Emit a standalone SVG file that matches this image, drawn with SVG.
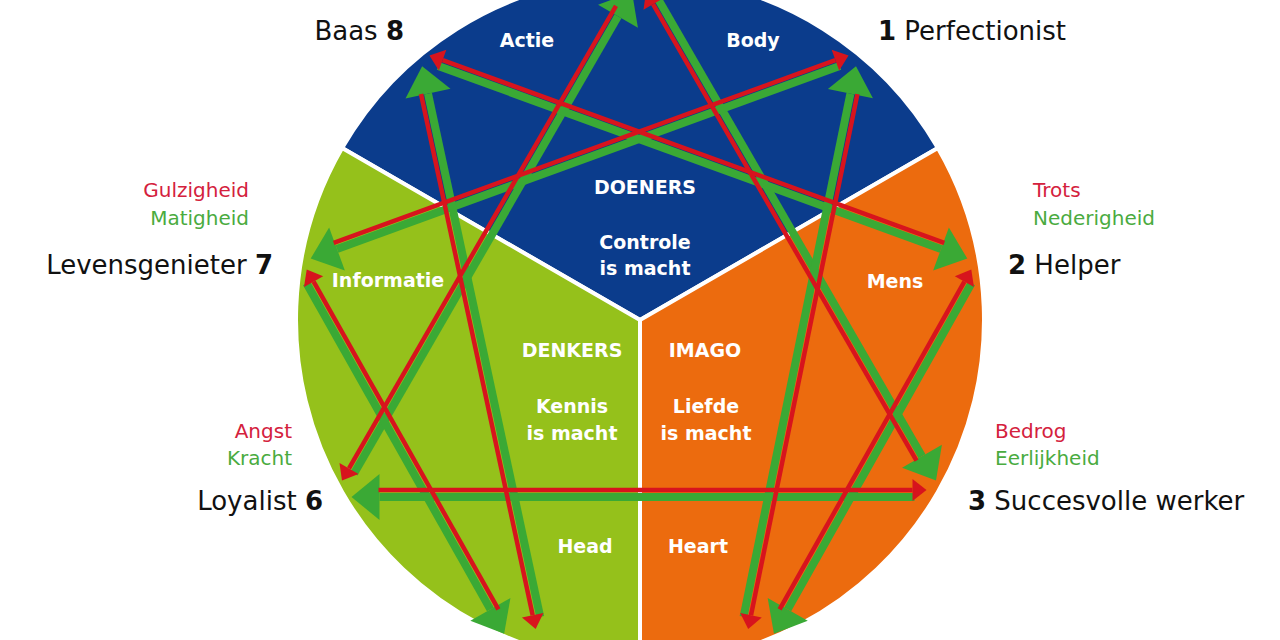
<svg xmlns="http://www.w3.org/2000/svg" width="1280" height="640" viewBox="0 0 1280 640">
<defs>
<style>
.sec{stroke:#ffffff;stroke-width:4;stroke-linejoin:miter}
.w{font-family:"DejaVu Sans","Liberation Sans",sans-serif;font-weight:bold;font-size:19px;fill:#ffffff;text-anchor:middle}
.lbl{font-family:"DejaVu Sans","Liberation Sans",sans-serif;font-size:26px;fill:#111111}
.num{font-weight:bold}
.vr{font-family:"DejaVu Sans","Liberation Sans",sans-serif;font-size:20px;fill:#d4213d}
.vg{font-family:"DejaVu Sans","Liberation Sans",sans-serif;font-size:20px;fill:#4aab3f}
.g{stroke:#3aa935;stroke-width:8;fill:none;marker-end:url(#ag)}
.r{stroke:#d7141d;stroke-width:4.5;fill:none;marker-end:url(#ar)}
</style>
<marker id="ag" viewBox="0 -25 30 50" markerWidth="30" markerHeight="50" refX="0" refY="0" orient="auto" markerUnits="userSpaceOnUse" overflow="visible">
<path d="M0,-23 L28,0 L0,23 Z" fill="#3aa935"/>
</marker>
<marker id="ar" viewBox="0 -12 16 24" markerWidth="16" markerHeight="24" refX="0" refY="0" orient="auto" markerUnits="userSpaceOnUse" overflow="visible">
<path d="M0,-11 L14,0 L0,11 Z" fill="#d7141d"/>
</marker>
</defs>
<rect width="1280" height="640" fill="#ffffff"/>
<g id="sectors">
<path id="doeners" class="sec" fill="#0b3c8c" d="M640,320 L342.1,148 A344,344 0 0 1 937.9,148 Z"/>
<path id="imago" class="sec" fill="#ec6b0e" d="M640,320 L937.9,148 A344,344 0 0 1 640,664 Z"/>
<path id="denkers" class="sec" fill="#95c11b" d="M640,320 L640,664 A344,344 0 0 1 342.1,148 Z"/>
</g>
<g id="connectors">
<g id="green-arrows">
<line class="g" x1="914.5" y1="497" x2="379.5" y2="497"/>
<line class="g" x1="654.5" y1="-7.1" x2="922" y2="456.2"/>
<line class="g" x1="354" y1="473.6" x2="618" y2="16.3"/>
<line class="g" x1="438.3" y1="66" x2="941" y2="249"/>
<line class="g" x1="839.7" y1="66" x2="337" y2="249"/>
<line class="g" x1="743.6" y1="616.8" x2="850.4" y2="93.6"/>
<line class="g" x1="540.2" y1="616.8" x2="428" y2="93.6"/>
<line class="g" x1="971.5" y1="283.3" x2="787.7" y2="609.4"/>
<line class="g" x1="306.5" y1="283.3" x2="490.4" y2="609.4"/>
</g>
<g id="red-arrows">
<line class="r" x1="378.5" y1="490" x2="912.5" y2="490"/>
<line class="r" x1="916.5" y1="460.6" x2="653" y2="4.2"/>
<line class="r" x1="616" y1="5.9" x2="349" y2="468.4"/>
<line class="r" x1="944.3" y1="242.8" x2="442.6" y2="60.2"/>
<line class="r" x1="333.7" y1="242.8" x2="835.4" y2="60.2"/>
<line class="r" x1="857.4" y1="94.1" x2="751" y2="615.3"/>
<line class="r" x1="421" y1="94" x2="532.7" y2="615.3"/>
<line class="r" x1="779.6" y1="609.4" x2="964.4" y2="281.6"/>
<line class="r" x1="498.4" y1="609.4" x2="313.6" y2="281.6"/>
</g>
</g>
<g id="sector-labels">
<text class="w" x="527" y="46.5">Actie</text>
<text class="w" x="753" y="46.5">Body</text>
<text class="w" x="645" y="194">DOENERS</text>
<text class="w" x="645" y="249">Controle</text>
<text class="w" x="645" y="275">is macht</text>
<text class="w" x="388" y="287">Informatie</text>
<text class="w" x="895" y="288">Mens</text>
<text class="w" x="572" y="357">DENKERS</text>
<text class="w" x="705" y="357">IMAGO</text>
<text class="w" x="572" y="412.5">Kennis</text>
<text class="w" x="572" y="439.5">is macht</text>
<text class="w" x="706" y="412.5">Liefde</text>
<text class="w" x="706" y="439.5">is macht</text>
<text class="w" x="585" y="552.5">Head</text>
<text class="w" x="698" y="552.5">Heart</text>
</g>
<g id="point-8"><text class="lbl" x="404" y="39.5" text-anchor="end">Baas <tspan class="num">8</tspan></text></g>
<g id="point-1"><text class="lbl" x="878" y="39.5"><tspan class="num">1</tspan> Perfectionist</text></g>
<g id="point-7">
<text class="vr" x="249" y="197" text-anchor="end">Gulzigheid</text>
<text class="vg" x="249" y="225" text-anchor="end">Matigheid</text>
<text class="lbl" x="273" y="273.5" text-anchor="end">Levensgenieter <tspan class="num">7</tspan></text>
</g>
<g id="point-2">
<text class="vr" x="1033" y="197">Trots</text>
<text class="vg" x="1033" y="225">Nederigheid</text>
<text class="lbl" x="1008" y="273.5"><tspan class="num">2</tspan> Helper</text>
</g>
<g id="point-6">
<text class="vr" x="292" y="438" text-anchor="end">Angst</text>
<text class="vg" x="292" y="465" text-anchor="end">Kracht</text>
<text class="lbl" x="323" y="509.5" text-anchor="end">Loyalist <tspan class="num">6</tspan></text>
</g>
<g id="point-3">
<text class="vr" x="995" y="438">Bedrog</text>
<text class="vg" x="995" y="465">Eerlijkheid</text>
<text class="lbl" x="968" y="509.5"><tspan class="num">3</tspan> Succesvolle werker</text>
</g>
</svg>
